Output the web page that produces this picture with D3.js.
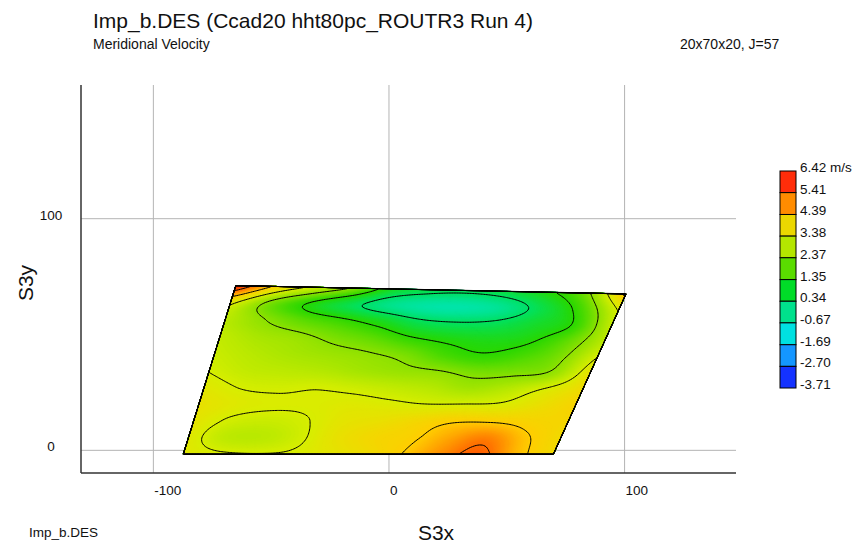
<!DOCTYPE html>
<html><head><meta charset="utf-8">
<script src="https://cdn.jsdelivr.net/npm/d3@7"></script>
<style>body{margin:0;background:#fff} text{font-family:"Liberation Sans",Arial,sans-serif;fill:#111}</style>
</head><body><svg id="c" width="854" height="545"></svg>
<script>
// ---------- data ----------
const xTicks = [-100, 0, 100];
const yTicks = [0, 100];
const legendLevels = [6.42, 5.41, 4.39, 3.38, 2.37, 1.35, 0.34, -0.67, -1.69, -2.70, -3.71];
const legendLabels = ["6.42 m/s", "5.41", "4.39", "3.38", "2.37", "1.35", "0.34", "-0.67", "-1.69", "-2.70", "-3.71"];
const legendColors = ["#ff2d0a", "#ff8c00", "#ebd700", "#b4e600", "#5adc00", "#00dc28", "#00e18c", "#00e1e1", "#1496ff", "#1432ff"];
const stopColors = ["#ff1400", "#ff6e00", "#ffcd00", "#d7ee00", "#8ce100", "#28d700", "#00e164", "#00e6c8", "#00c8ff", "#006eff", "#0000ff"];
// domain corners (S3x, S3y): bottom-left, bottom-right, top-right, top-left
const domainX = [-87.1, 70.0, 100.8, -64.8];
const domainY = [-1.9, -1.9, 67.3, 70.9];
// sampling grid (normalized along / across the passage)
const gridU = [0, 0.1, 0.2, 0.3, 0.4, 0.5, 0.6, 0.7, 0.8, 0.9, 1.0];
const gridV = [1.0, 0.9, 0.8, 0.7, 0.6, 0.5, 0.4, 0.3, 0.2, 0.1, 0.0];
// meridional velocity (m/s), rows top -> bottom
const velocity = [
  [6.3, 4.3, 3.2, 2.3, 1.0, 0.6, 0.5, 0.7, 1.2, 2.2, 4.6],
  [3.6, 2.2, 1.3, 0.6, 0.0, -0.3, -0.35, -0.1, 0.6, 1.6, 3.45],
  [3.0, 2.4, 1.9, 1.55, 1.1, 0.55, 0.4, 0.5, 0.9, 1.4, 3.1],
  [3.1, 2.75, 2.55, 2.2, 1.9, 1.45, 1.2, 1.1, 1.25, 1.9, 3.0],
  [3.2, 2.95, 2.75, 2.6, 2.45, 2.2, 1.7, 1.45, 1.7, 2.2, 3.4],
  [3.35, 3.1, 3.0, 2.9, 2.7, 2.55, 2.45, 2.2, 2.25, 2.5, 3.8],
  [3.6, 3.35, 3.3, 3.35, 3.25, 3.1, 2.95, 2.7, 2.95, 3.45, 4.0],
  [3.8, 3.55, 3.45, 3.45, 3.55, 3.5, 3.42, 3.45, 3.5, 3.85, 4.2],
  [3.7, 3.3, 3.2, 3.35, 3.7, 3.85, 4.1, 4.35, 4.35, 4.2, 4.1],
  [3.6, 3.05, 3.0, 3.3, 3.8, 4.1, 4.3, 4.8, 5.2, 4.5, 4.0],
  [3.6, 3.45, 3.4, 3.45, 3.7, 4.0, 4.45, 5.1, 5.6, 4.6, 4.0]
];

// ---------- layout ----------
const plotLeft = 81, plotRight = 736, plotTop = 85, plotBottom = 473;
const svg = d3.select("#c");
const x = d3.scaleLinear().domain([-130.5, 147.5]).range([plotLeft, plotRight]);
const y = d3.scaleLinear().domain([-10, 157.5]).range([plotBottom, plotTop]);

// grid lines via axes
const gx = svg.append("g").attr("transform", `translate(0,${plotBottom})`)
  .call(d3.axisBottom(x).tickValues(xTicks).tickSize(-(plotBottom - plotTop)).tickFormat(d => String(d)));
gx.select(".domain").remove();
gx.selectAll(".tick line").attr("stroke", "#b4b4b4");
gx.selectAll(".tick text").attr("text-anchor", "start").attr("x", 1).attr("y", 22).attr("dy", 0)
  .style("font-size", "13.5px").attr("fill", "#111").style("font-family", '"Liberation Sans",Arial,sans-serif');

const gy = svg.append("g").attr("transform", `translate(${plotLeft},0)`)
  .call(d3.axisLeft(y).tickValues(yTicks).tickSize(-(plotRight - plotLeft)).tickFormat(d => String(d)));
gy.select(".domain").remove();
gy.selectAll(".tick line").attr("stroke", "#b4b4b4");
gy.selectAll(".tick text").attr("text-anchor", "middle").attr("x", -30).attr("y", 1).attr("dy", 0)
  .style("font-size", "13.5px").attr("fill", "#111").style("font-family", '"Liberation Sans",Arial,sans-serif');

// ---------- field ----------
const nu = gridU.length, nv = gridV.length;
function g(r, c) {
  if (c < 0) return 2 * g(r, 0) - g(r, 1);
  if (c > nu - 1) return 2 * g(r, nu - 1) - g(r, nu - 2);
  if (r < 0) return 2 * g(0, c) - g(1, c);
  if (r > nv - 1) return 2 * g(nv - 1, c) - g(nv - 2, c);
  return velocity[r][c];
}
function cr(p0, p1, p2, p3, t) {
  return 0.5 * (2 * p1 + (-p0 + p2) * t + (2 * p0 - 5 * p1 + 4 * p2 - p3) * t * t + (-p0 + 3 * p1 - 3 * p2 + p3) * t * t * t);
}
const uIdx = d3.scaleLinear().domain([gridU[0], gridU[nu - 1]]).range([0, nu - 1]);
const vIdx = d3.scaleLinear().domain([gridV[0], gridV[nv - 1]]).range([0, nv - 1]);
function field(u, v) {
  const fc = uIdx(u), fr = vIdx(v);
  let c0 = Math.min(Math.floor(fc), nu - 2), r0 = Math.min(Math.floor(fr), nv - 2);
  const tc = fc - c0, tr = fr - r0;
  const rows = [];
  for (let k = -1; k <= 2; k++) {
    const r = r0 + k;
    rows.push(cr(g(r, c0 - 1), g(r, c0), g(r, c0 + 1), g(r, c0 + 2), tc));
  }
  return cr(rows[0], rows[1], rows[2], rows[3], tr);
}
const N = 240, M = 120;
const values = new Float64Array(N * M);
for (let j = 0; j < M; j++) for (let i = 0; i < N; i++) {
  values[j * N + i] = field((i + 0.5) / N, 1 - (j + 0.5) / M);
}
function quad(u, v) {
  const bx = domainX[0] + (domainX[1] - domainX[0]) * u, by = domainY[0] + (domainY[1] - domainY[0]) * u;
  const tx = domainX[3] + (domainX[2] - domainX[3]) * u, ty = domainY[3] + (domainY[2] - domainY[3]) * u;
  return [bx + (tx - bx) * v, by + (ty - by) * v];
}
const proj = d3.geoTransform({
  point(px, py) { const p = quad(px / N, 1 - py / M); this.stream.point(x(p[0]), y(p[1])); }
});
const path = d3.geoPath(proj);
const color = d3.scaleLinear().domain(legendLevels).range(stopColors).interpolate(d3.interpolateRgb).clamp(true);

const vmin = d3.min(values), vmax = d3.max(values);
const fineT = d3.range(Math.floor(vmin * 20) / 20 - 0.05, vmax, 0.04);
const fills = d3.contours().size([N, M]).thresholds(fineT)(values);
svg.append("g").selectAll("path").data(fills).join("path")
  .attr("d", path).attr("fill", d => color(d.value + 0.02)).attr("stroke", d => color(d.value + 0.02)).attr("stroke-width", 0.3);

const lines = d3.contours().size([N, M]).thresholds(legendLevels.slice(1, -1))(values);
svg.append("g").selectAll("path").data(lines).join("path")
  .attr("d", path).attr("fill", "none").attr("stroke", "#000").attr("stroke-width", 1).attr("stroke-linejoin", "round");

// domain outline
svg.append("path")
  .attr("d", d3.line()(domainX.map((dx, i) => [x(dx), y(domainY[i])])) + "Z")
  .attr("fill", "none").attr("stroke", "#000").attr("stroke-width", 1.2);

// axis lines
svg.append("line").attr("x1", plotLeft).attr("x2", plotLeft).attr("y1", plotTop).attr("y2", plotBottom)
  .attr("stroke", "#333").attr("stroke-width", 1.5);
svg.append("line").attr("x1", plotLeft).attr("x2", plotRight).attr("y1", plotBottom).attr("y2", plotBottom)
  .attr("stroke", "#333").attr("stroke-width", 1.5);

// ---------- legend ----------
const lx = 780, lw = 16;
const ly = d3.scaleLinear().domain([legendLevels[10], legendLevels[0]]).range([388, 171]);
const lg = svg.append("g");
lg.selectAll("rect").data(legendColors).join("rect")
  .attr("x", lx).attr("width", lw)
  .attr("y", (d, i) => ly(legendLevels[i])).attr("height", (d, i) => ly(legendLevels[i + 1]) - ly(legendLevels[i]))
  .attr("fill", d => d).attr("stroke", "#000").attr("stroke-width", 1);
lg.selectAll("text").data(legendLabels).join("text")
  .attr("x", 800).attr("y", (d, i) => ly(legendLevels[i]) + 1)
  .style("font-size", "13.5px").text(d => d);

// ---------- texts ----------
svg.append("text").attr("x", 93).attr("y", 28).style("font-size", "21px").text("Imp_b.DES (Ccad20 hht80pc_ROUTR3 Run 4)");
svg.append("text").attr("x", 93).attr("y", 49).style("font-size", "14px").text("Meridional Velocity");
svg.append("text").attr("x", 680).attr("y", 49).style("font-size", "14px").text("20x70x20, J=57");
svg.append("text").attr("x", 29).attr("y", 537).style("font-size", "13.5px").text("Imp_b.DES");
svg.append("text").attr("x", 436).attr("y", 540).attr("text-anchor", "middle").style("font-size", "21px").text("S3x");
svg.append("text").attr("transform", "translate(33,283) rotate(-90)").attr("text-anchor", "middle").style("font-size", "21px").text("S3y");
</script></body></html>
